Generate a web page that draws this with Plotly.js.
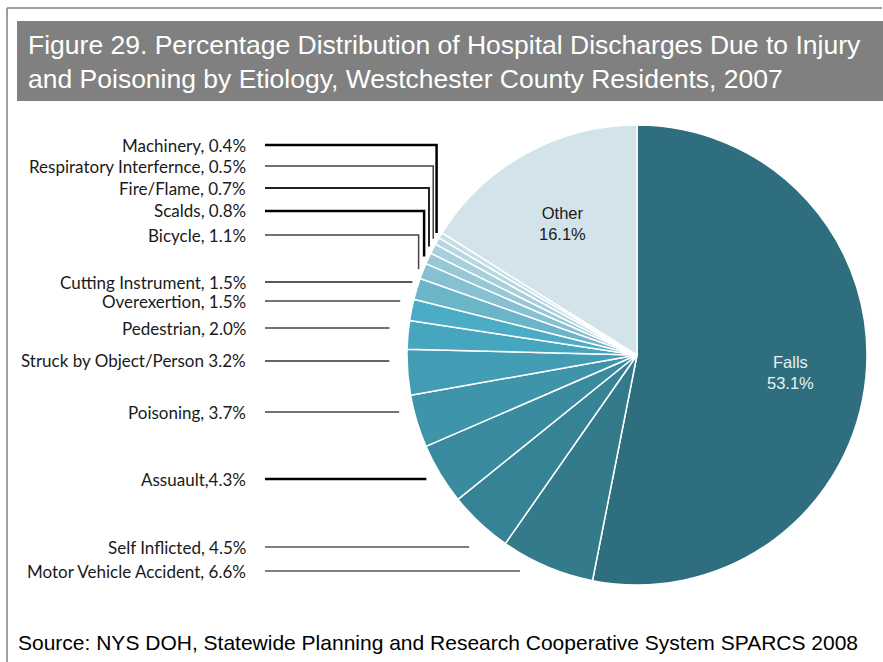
<!DOCTYPE html>
<html>
<head>
<meta charset="utf-8">
<script src="https://cdn.plot.ly/plotly-3.0.1.min.js"></script>
<style>html,body{margin:0;padding:0;background:#fff;}#chart{width:883px;height:662px;}</style>
</head>
<body>
<div id="chart"></div>
<script>
// ---- data ----
const categories = ["Falls","Motor Vehicle Accident","Self Inflicted","Assault","Poisoning","Struck by Object/Person","Pedestrian","Overexertion","Cutting Instrument","Bicycle","Scalds","Fire/Flame","Respiratory Interference","Machinery","Other"];
const values = [53.1, 6.6, 4.5, 4.3, 3.7, 3.2, 2.0, 1.5, 1.5, 1.1, 0.8, 0.7, 0.5, 0.4, 16.1];
const sliceColors = ["#2e6e7e","#337a8b","#378396","#3a8b9f","#3e94a9","#429db4","#46a6bd","#4aadc5","#6bb5c9","#86c0d1","#97c8d6","#a7d0dc","#b6d8e2","#c4dfe7","#d2e3ea"];
const insideText = ["Falls<br>53.1%","","","","","","","","","","","","","","Other<br>16.1%"];
const insideTextColor = ["#e8f1f4","","","","","","","","","","","","","","#1a1a1a"];
const outsideLabels = ["","Motor Vehicle Accident, 6.6%","Self Inflicted, 4.5%","Assuault,4.3%","Poisoning, 3.7%","Struck by Object/Person 3.2%","Pedestrian, 2.0%","Overexertion, 1.5%","Cutting Instrument, 1.5%","Bicycle, 1.1%","Scalds, 0.8%","Fire/Flame, 0.7%","Respiratory Interfernce, 0.5%","Machinery, 0.4%",""];
const titleText = "Figure 29. Percentage Distribution of Hospital Discharges Due to Injury<br>and Poisoning by Etiology, Westchester County Residents, 2007";
const sourceText = "Source: NYS DOH, Statewide Planning and Research Cooperative System SPARCS 2008";

// ---- layout config (positions / styles) ----
const W = 883, H = 662;
const pieBox = {x0: 406, x1: 868, y0: 125, y1: 585};
const labelY = [null, 571, 547, 479, 412, 361, 328, 301, 282, 235, 211, 188, 166, 145, null];
const bent   = [false,false,false,false,false,false,false,false,false,true,true,true,true,true,false];
const lineReach = [0,1.3,1.07,1.07,1.08,1.08,1.08,1.05,1.02,1.02,1.02,1.02,1.02,1.02,0];
const lineColor = ["","#555","#555","#000","#444","#333","#444","#444","#222","#444","#000","#222","#444","#000",""];
const lineW     = [0,1.5,1.5,2.5,1.5,1.5,1.5,1.5,1.5,1.5,2.5,2,1.5,2.5,0];
const labelRightX = 248, lineStartX = 265;

const px = x => x / W;
const py = y => 1 - y / H;

const cx = (pieBox.x0 + pieBox.x1) / 2, cy = (pieBox.y0 + pieBox.y1) / 2;
const r = Math.min(pieBox.x1 - pieBox.x0, pieBox.y1 - pieBox.y0) / 2;
const total = values.reduce((a, b) => a + b, 0);

const shapes = [
  {type:'rect', xref:'paper', yref:'paper', x0:px(17), x1:px(883), y0:py(21), y1:py(101), fillcolor:'#808080', line:{width:0}, layer:'below'},
  {type:'line', xref:'paper', yref:'paper', x0:px(7), x1:px(882), y0:py(8), y1:py(8), line:{color:'#808080', width:1.5}},
  {type:'line', xref:'paper', yref:'paper', x0:px(7), x1:px(7), y0:py(8), y1:py(662), line:{color:'#808080', width:1.5}}
];
const annotations = [];

let cum = 0;
values.forEach((v, i) => {
  const mid = (cum + v / 2) / total * 2 * Math.PI;
  cum += v;
  if (insideText[i]) {
    annotations.push({xref:'paper', yref:'paper', x:px(cx + 0.67 * r * Math.sin(mid)), y:py(cy - 0.67 * r * Math.cos(mid) + 3),
      xanchor:'center', yanchor:'middle', text:insideText[i], showarrow:false,
      font:{family:'Liberation Sans, Arial, sans-serif', size:16.5, color:insideTextColor[i]}});
  }
  if (!outsideLabels[i]) return;
  const y = labelY[i];
  annotations.push({xref:'paper', yref:'paper', x:px(labelRightX), y:py(y), xanchor:'right', yanchor:'middle',
    text: outsideLabels[i], showarrow:false, font:{family:'Lato, Carlito, sans-serif', size:17, color:'#1a1a1a'}});
  if (bent[i]) {
    const ex = cx + lineReach[i] * r * Math.sin(mid), ey = cy - lineReach[i] * r * Math.cos(mid);
    shapes.push({type:'path', xref:'paper', yref:'paper',
      path:`M ${px(lineStartX)} ${py(y)} L ${px(ex)} ${py(y)} L ${px(ex)} ${py(ey)}`,
      line:{color:lineColor[i], width:lineW[i]}});
  } else {
    const ex = cx + lineReach[i] * r * Math.sin(mid);
    shapes.push({type:'line', xref:'paper', yref:'paper', x0:px(lineStartX), x1:px(ex), y0:py(y), y1:py(y),
      line:{color:lineColor[i], width:lineW[i]}});
  }
});

annotations.push({xref:'paper', yref:'paper', x:px(26), y:py(62), xanchor:'left', yanchor:'middle', align:'left',
  text:titleText, showarrow:false, font:{family:'Liberation Sans, Arial, sans-serif', size:26.5, color:'#ffffff'}});
annotations.push({xref:'paper', yref:'paper', x:px(16), y:py(642), xanchor:'left', yanchor:'middle', align:'left',
  text:sourceText, showarrow:false, font:{family:'Liberation Sans, Arial, sans-serif', size:21, color:'#000000'}});

const trace = {
  type:'pie', labels:categories, values:values, sort:false, direction:'clockwise', rotation:0,
  marker:{colors:sliceColors, line:{color:'#ffffff', width:1.5}},
  textinfo:'none', hoverinfo:'label+percent', showlegend:false,
  domain:{x:[px(pieBox.x0), px(pieBox.x1)], y:[py(pieBox.y1), py(pieBox.y0)]}
};

Plotly.newPlot('chart', [trace], {
  width:W, height:H, margin:{l:0, r:0, t:0, b:0}, paper_bgcolor:'#ffffff',
  shapes:shapes, annotations:annotations, showlegend:false
}, {displayModeBar:false, staticPlot:true});
</script>
</body>
</html>
